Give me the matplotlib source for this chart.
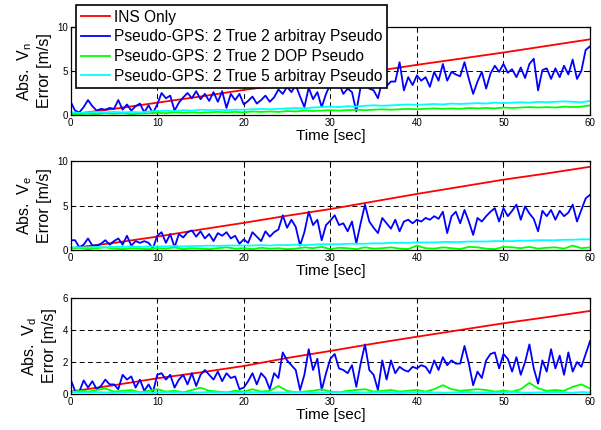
import numpy as np
import matplotlib
matplotlib.use("Agg")
import matplotlib.pyplot as plt

plt.rcParams['font.family'] = ['Liberation Sans', 'DejaVu Sans']
plt.rcParams['mathtext.default'] = 'regular'

labels = ["INS Only", "Pseudo-GPS: 2 True 2 arbitray Pseudo",
          "Pseudo-GPS: 2 True 2 DOP Pseudo", "Pseudo-GPS: 2 True 5 arbitray Pseudo"]
ylabels = ['Abs.  V$_{n}$\nError [m/s]', 'Abs.  V$_{e}$\nError [m/s]', 'Abs.  V$_{d}$\nError [m/s]']
xlabel = "Time [sec]"
xticks = [0, 10, 20, 30, 40, 50, 60]
yticks_list = [[0, 5, 10], [0, 5, 10], [0, 2, 4, 6]]
ylims = [10, 10, 6]

# red (INS only), sampled every 5 s
t_red = [0, 5, 10, 15, 20, 25, 30, 35, 40, 45, 50, 55, 60]
red_n = [0.05, 0.7, 1.4, 2.1, 2.85, 3.5, 4.2, 4.95, 5.7, 6.4, 7.1, 7.85, 8.6]
red_e = [0.2, 0.8, 1.5, 2.3, 3.05, 3.85, 4.6, 5.45, 6.3, 7.1, 7.9, 8.6, 9.35]
red_d = [0.15, 0.55, 0.98, 1.35, 1.75, 2.25, 2.69, 3.15, 3.58, 4.0, 4.42, 4.8, 5.19]

# blue, sampled every 0.5 s
blue_n = [1.5,0.5,0.3,0.9,1.7,1.0,0.5,0.7,0.6,0.8,0.7,1.7,0.6,1.2,0.5,1.0,1.3,0.3,1.1,0.2,
          1.2,2.5,1.9,2.2,0.5,1.4,2.0,2.5,1.9,2.7,1.8,2.4,1.6,2.6,1.5,2.7,0.8,2.4,1.7,2.4,
          1.2,1.6,2.1,1.3,1.7,2.2,1.5,2.0,2.9,2.4,3.2,2.6,3.4,2.1,0.9,3.1,1.8,2.6,0.9,2.4,
          3.5,3.3,3.6,2.4,3.0,2.6,0.4,3.2,4.2,3.0,2.8,1.9,3.9,3.3,3.8,3.8,6.0,2.8,4.3,3.4,
          4.5,3.9,4.3,3.2,4.9,3.9,5.8,3.9,4.9,4.6,4.4,6.0,4.1,2.4,3.8,4.9,3.0,4.7,5.6,4.9,
          5.8,4.8,5.2,4.3,5.4,4.2,5.8,6.4,2.8,5.1,5.3,4.1,5.3,4.3,5.6,4.6,6.3,4.1,5.0,7.4,7.8]
blue_e = [1.1,1.1,0.3,0.6,1.3,0.5,0.5,0.7,1.1,0.6,1.0,1.3,0.6,1.6,0.5,1.0,0.8,1.0,0.8,0.2,
          1.6,2.0,0.8,1.8,0.3,1.8,1.4,2.0,2.2,1.5,2.1,1.3,1.8,1.0,1.9,1.6,2.0,1.3,1.6,0.7,
          1.2,0.8,2.0,1.5,1.0,2.1,1.5,2.0,2.3,3.9,2.5,3.4,2.6,0.5,2.0,4.3,2.8,3.4,1.1,2.8,
          3.3,3.9,2.8,3.0,2.1,3.2,0.75,3.0,5.1,3.2,2.5,1.9,3.6,3.0,2.4,3.4,2.1,3.2,3.4,3.0,
          3.4,3.2,3.6,3.4,3.8,3.5,4.3,1.9,3.8,4.3,3.0,4.5,3.2,1.7,3.6,3.2,3.8,4.3,4.7,3.2,
          4.7,3.8,4.4,5.1,3.4,4.9,4.1,3.5,2.1,4.4,3.8,4.5,3.4,4.4,3.8,4.2,5.1,3.2,4.5,5.8,6.2]
blue_d = [0.9,0.2,0.15,0.85,0.4,0.8,0.3,0.5,0.9,0.6,0.6,0.3,1.2,0.9,1.1,0.4,0.9,0.2,0.6,0.1,
          1.2,1.3,0.9,1.2,0.4,0.9,1.2,0.6,1.3,0.5,1.2,1.5,1.2,0.9,1.4,0.8,1.3,1.0,1.1,0.3,
          0.4,0.8,1.3,0.6,1.3,1.0,0.3,1.3,1.0,2.6,2.1,1.8,1.5,0.25,1.2,2.8,1.5,2.2,0.25,1.3,
          2.2,2.5,1.6,1.5,1.3,1.8,0.45,1.9,3.1,1.5,1.2,0.25,2.1,0.9,2.1,1.3,1.7,1.5,1.4,1.7,
          1.6,1.8,1.7,1.3,2.1,1.5,2.3,1.8,2.1,1.9,1.9,3.0,1.9,0.55,1.4,1.0,2.1,2.5,2.6,1.6,
          2.5,2.2,1.4,2.3,1.2,2.0,3.1,1.6,0.65,2.1,1.4,2.8,1.6,2.4,1.2,2.6,1.4,2.0,1.7,2.5,3.3]

# green and cyan, sampled every 1 s
green_n = [0.1,0.1,0.15,0.1,0.2,0.15,0.2,0.1,0.15,0.2,0.25,0.2,0.3,0.25,0.3,0.25,0.3,0.35,0.3,0.35,
           0.3,0.4,0.35,0.4,0.35,0.45,0.4,0.5,0.45,0.5,0.55,0.5,0.55,0.6,0.55,0.6,0.65,0.6,0.65,0.7,
           0.65,0.7,0.75,0.7,0.75,0.7,0.8,0.75,0.8,0.75,0.85,0.8,0.85,0.9,0.85,0.9,0.85,0.95,0.9,0.95,1.1]
cyan_n = [0.3,0.25,0.3,0.35,0.3,0.35,0.3,0.35,0.3,0.4,0.45,0.5,0.45,0.55,0.5,0.6,0.55,0.6,0.55,0.6,
          0.6,0.65,0.7,0.65,0.7,0.75,0.8,0.75,0.85,0.9,0.95,0.9,1.0,0.95,1.05,1.1,1.05,1.1,1.15,1.2,
          1.15,1.2,1.25,1.2,1.3,1.25,1.3,1.35,1.3,1.4,1.35,1.4,1.45,1.4,1.5,1.45,1.5,1.55,1.5,1.45,1.6]
green_e = [0.15,0.25,0.1,0.2,0.3,0.15,0.1,0.2,0.15,0.1,0.2,0.15,0.3,0.1,0.2,0.15,0.1,0.2,0.3,0.15,
           0.2,0.1,0.25,0.15,0.2,0.1,0.15,0.3,0.2,0.35,0.1,0.25,0.2,0.1,0.3,0.15,0.2,0.3,0.15,0.1,
           0.5,0.2,0.15,0.3,0.2,0.1,0.35,0.3,0.15,0.1,0.35,0.3,0.2,0.35,0.15,0.25,0.3,0.15,0.5,0.2,0.3]
cyan_e = [0.3,0.3,0.3,0.35,0.3,0.35,0.35,0.4,0.35,0.4,0.4,0.4,0.45,0.4,0.45,0.45,0.5,0.45,0.5,0.5,
          0.5,0.5,0.55,0.5,0.55,0.55,0.6,0.55,0.6,0.65,0.65,0.65,0.7,0.7,0.7,0.75,0.75,0.8,0.8,0.8,
          0.85,0.85,0.85,0.9,0.9,0.9,0.95,0.95,0.95,1.0,1.0,1.0,1.05,1.05,1.1,1.1,1.1,1.15,1.15,1.2,1.2]
green_d = [0.1,0.2,0.15,0.25,0.35,0.15,0.2,0.25,0.1,0.2,0.3,0.15,0.2,0.1,0.25,0.4,0.2,0.15,0.1,0.2,
           0.15,0.3,0.15,0.2,0.5,0.2,0.1,0.15,0.2,0.3,0.15,0.1,0.2,0.25,0.3,0.15,0.2,0.25,0.15,0.2,
           0.25,0.15,0.3,0.55,0.3,0.2,0.25,0.3,0.25,0.15,0.2,0.15,0.3,0.7,0.35,0.2,0.25,0.2,0.45,0.6,0.35]
cyan_d = [0.15,0.1,0.1,0.12,0.1,0.08,0.1,0.12,0.1,0.08,0.1,0.12,0.1,0.1,0.08,0.1,0.12,0.1,0.1,0.08,
          0.1,0.12,0.1,0.08,0.1,0.1,0.12,0.1,0.08,0.1,0.1,0.12,0.1,0.08,0.1,0.1,0.12,0.1,0.08,0.1,
          0.1,0.12,0.1,0.08,0.1,0.1,0.12,0.1,0.08,0.1,0.1,0.12,0.1,0.08,0.1,0.1,0.12,0.1,0.08,0.12,0.1]

series = [(red_n, blue_n, green_n, cyan_n), (red_e, blue_e, green_e, cyan_e), (red_d, blue_d, green_d, cyan_d)]
colors = ['#ff0000', '#0000ff', '#00ff00', '#00ffff']

fig = plt.figure(figsize=(6.01, 4.30), dpi=100)
W, H = 601, 430
boxes = [(70.7, 27, 590, 115), (70.7, 161, 590, 250), (70.7, 298, 590, 394)]

for i, (x0, y0, x1, y1) in enumerate(boxes):
    ax = fig.add_axes([x0 / W, 1 - y1 / H, (x1 - x0) / W, (y1 - y0) / H])
    r, b, g, c = series[i]
    lr, = ax.plot(t_red, r, color=colors[0], lw=1.3)
    lb, = ax.plot(np.arange(len(b)) * 0.5, b, color=colors[1], lw=1.3)
    lg, = ax.plot(np.arange(len(g)) * 1.0, g, color=colors[2], lw=1.3)
    lc, = ax.plot(np.arange(len(c)) * 1.0, c, color=colors[3], lw=1.3)
    ax.set_xlim(0, 60)
    ax.set_ylim(0, ylims[i])
    ax.set_xticks(xticks)
    ax.set_yticks(yticks_list[i])
    ax.tick_params(direction='in', length=3, width=0.8, labelsize=7, top=True, right=True, pad=2)
    ax.grid(True, color='black', linestyle=(0, (5, 3.5)), linewidth=0.7)
    for s in ax.spines.values():
        s.set_linewidth(0.9)
    ax.set_xlabel(xlabel, fontsize=11, labelpad=1)
    ax.set_ylabel(ylabels[i], fontsize=11.5, linespacing=1.25, labelpad=4)
    if i == 0:
        leg = ax.legend([lr, lb, lg, lc], labels, loc='upper left', bbox_to_anchor=(0.01, 1.25),
                        borderaxespad=0, fontsize=11.2, labelspacing=0.3, handlelength=1.9,
                        handletextpad=0.25, borderpad=0.3, fancybox=False, framealpha=1,
                        edgecolor='black')
        leg.get_frame().set_linewidth(1.2)
        leg.set_zorder(10)

fig.savefig('out.png', dpi=100)
